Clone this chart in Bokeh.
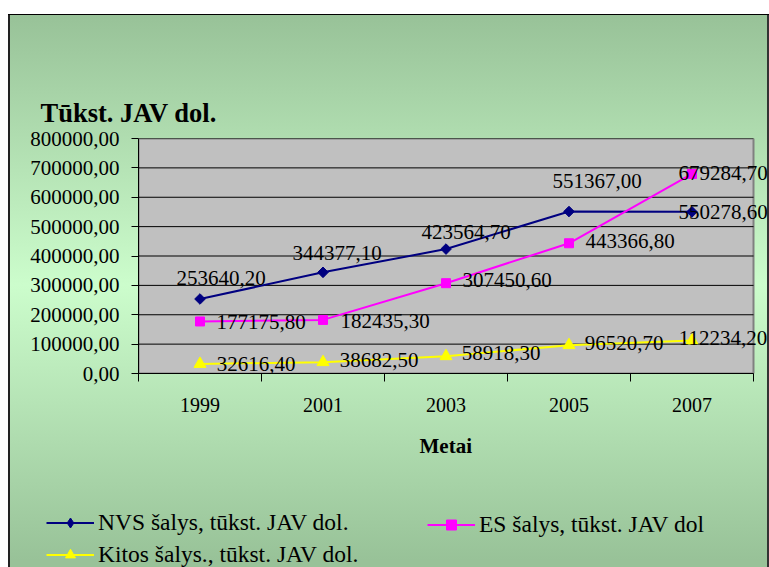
import math
from bokeh.plotting import figure
from bokeh.models import (ColumnDataSource, FixedTicker, Legend, LegendItem, Title, Range1d)
from bokeh.core.properties import value
from bokeh.embed import file_html
from bokeh.resources import INLINE

# ---------------- data ----------------
years = [1999, 2001, 2003, 2005, 2007]
nvs = [253640.20, 344377.10, 423564.70, 551367.00, 550278.60]
es = [177175.80, 182435.30, 307450.60, 443366.80, 679284.70]
kitos = [32616.40, 38682.50, 58918.30, 96520.70, 112234.20]
y_ticks = [0, 100000, 200000, 300000, 400000, 500000, 600000, 700000, 800000]
series_names = ["NVS šalys, tūkst. JAV dol.", "ES šalys, tūkst. JAV dol", "Kitos šalys., tūkst. JAV dol."]
y_title = "Tūkst. JAV dol."
x_title = "Metai"

# ---------------- label offsets (style, screen px) ----------------
nvs_dx = [21, 14, 20, 28, 31]
nvs_dy = [-21, -19, -17, -31, 0]
es_dx = [61, 62, 61, 61, 31]
es_dy = [1, 1, -3, -2, -1]
kitos_dx = [56, 56, 55, 55, 31]
kitos_dy = [0, -2, -3, -2, -3]

SERIF = "Liberation Serif"
W, H_MAIN, H_LEG = 769, 480, 87
GRAD = "linear-gradient(to bottom, #98c298 0px, #ccfdcc 270px, #98c298 545px)"
PLOT_W = 615          # px width of the grey plot area
EXTRA_R = 15          # px of chart area to the right of the grey plot area


def fmt(v):
    return f"{v:.2f}".replace(".", ",")


x0, x1 = years[0] - 1, years[-1] + 1
x_end = x1 + (x1 - x0) * EXTRA_R / PLOT_W

p = figure(width=W, height=H_MAIN, output_backend="svg", toolbar_location=None,
           x_range=Range1d(x0, x_end), y_range=Range1d(y_ticks[0], y_ticks[-1]),
           min_border_left=138, min_border_right=W - 138 - PLOT_W - EXTRA_R,
           min_border_top=138, min_border_bottom=H_MAIN - 373)

p.border_fill_color = None
p.background_fill_color = None
p.outline_line_color = None

p.styles = {
    "background-image": "linear-gradient(#000,#000), linear-gradient(#222,#222), linear-gradient(#333,#333), " + GRAD,
    "background-position": "8px 14px, 8px 14px, right 0 top 14px, 10px 15px",
    "background-size": "100% 1px, 2px 100%, 2px 100%, 100% 552px",
    "background-repeat": "no-repeat",
}

# grey plot area and horizontal grid lines
p.quad(left=x0, right=x1, bottom=y_ticks[0], top=y_ticks[-1],
       fill_color="#c0c0c0", line_color="#808080", line_width=2)
p.segment(x0=[x0] * len(y_ticks), x1=[x1] * len(y_ticks), y0=y_ticks, y1=y_ticks,
          line_color="black", line_width=1)

# x axis
minor = [y - 1 for y in years] + [years[-1] + 1]
p.xaxis.ticker = FixedTicker(ticks=years, minor_ticks=minor)
p.xaxis.bounds = (x0, x1)
p.xaxis.major_tick_line_color = None
p.xaxis.major_tick_out = 8
p.xaxis.major_tick_in = 0
p.xaxis.minor_tick_line_color = "black"
p.xaxis.minor_tick_out = 8
p.xaxis.minor_tick_in = 0
p.xaxis.axis_line_color = "black"
p.xaxis.major_label_standoff = 16
p.xaxis.major_label_text_font = SERIF
p.xaxis.major_label_text_font_size = "20px"
p.xaxis.major_label_text_color = "black"

# x axis title, centred under the grey plot area
xt = Title(text=x_title, align="left", offset=281, text_font=SERIF, text_font_size="21px",
           text_font_style="bold", text_color="black", standoff=34)
p.add_layout(xt, "below")

# y axis
p.yaxis.ticker = FixedTicker(ticks=y_ticks, minor_ticks=[])
p.yaxis.major_label_overrides = {t: fmt(t) for t in y_ticks}
p.yaxis.major_tick_out = 7
p.yaxis.major_tick_in = 0
p.yaxis.major_tick_line_color = "black"
p.yaxis.axis_line_color = "black"
p.yaxis.major_label_standoff = 12
p.yaxis.major_label_text_font = SERIF
p.yaxis.major_label_text_font_size = "21px"
p.yaxis.major_label_text_color = "black"

p.xgrid.visible = False
p.ygrid.visible = False

# y axis title (above the plot)
t = Title(text=y_title, align="left", offset=-98, text_font=SERIF, text_font_size="26.5px",
          text_font_style="bold", text_color="black", standoff=22)
p.add_layout(t, "above")

# series
colors = ["#000080", "#ff00ff", "#ffff00"]
series = [nvs, es, kitos]
markers = [("square", math.pi / 4, 7.5), ("square", 0, 9), ("triangle", 0, 12)]
legend_markers = [("diamond", 0, 14), ("square", 0, 10), ("triangle", 0, 13)]
offs = [(nvs_dx, nvs_dy), (es_dx, es_dy), (kitos_dx, kitos_dy)]

for vals, col, (mk, ang, sz) in zip(series, colors, markers):
    src = ColumnDataSource(dict(x=years, y=vals))
    p.line("x", "y", source=src, line_color=col, line_width=2)
    p.scatter("x", "y", source=src, marker=mk, angle=ang, size=sz, fill_color=col, line_color=col)

for vals, (dx, dy) in zip(series, offs):
    src = ColumnDataSource(dict(x=years, y=vals, lab=[fmt(v) for v in vals], dx=dx, dy=dy))
    p.text("x", "y", text="lab", source=src, x_offset="dx", y_offset="dy",
           text_align="center", text_baseline="middle",
           text_font=value(SERIF), text_font_size="21px", text_color="black")

# ---------------- legend strip (second root, same background) ----------------
lf = figure(width=W, height=H_LEG, output_backend="svg", toolbar_location=None,
            x_range=Range1d(0, 1), y_range=Range1d(0, 1),
            min_border_left=0, min_border_right=0, min_border_top=0, min_border_bottom=0)
lf.axis.visible = False
lf.grid.visible = False
lf.border_fill_color = None
lf.background_fill_color = None
lf.outline_line_color = None
lf.styles = {
    "background-image": "linear-gradient(#222,#222), linear-gradient(#333,#333), " + GRAD,
    "background-position": f"8px 0, right 0 top 0, 10px {15 - H_MAIN}px",
    "background-size": "2px 100%, 2px 100%, 100% 552px",
    "background-repeat": "no-repeat",
}

items = []
for vals, col, (mk, ang, sz), name in zip(series, colors, legend_markers, series_names):
    src = ColumnDataSource(dict(x=years, y=vals))   # outside this strip's ranges: only the legend swatches show
    lr = lf.line("x", "y", source=src, line_color=col, line_width=2)
    mr = lf.scatter("x", "y", source=src, marker=mk, angle=ang, size=sz, fill_color=col, line_color=col)
    items.append(LegendItem(label=name, renderers=[lr, mr]))


def make_legend(its, loc):
    lg = Legend(items=its, location=loc, orientation="vertical")
    lg.padding = 0
    lg.margin = 0
    lg.spacing = 5
    lg.border_line_color = None
    lg.background_fill_alpha = 0
    lg.glyph_width = 48
    lg.glyph_height = 25
    lg.label_height = 25
    lg.label_standoff = 4
    lg.label_text_font = SERIF
    lg.label_text_font_size = "23.5px"
    lg.label_text_color = "black"
    return lg


lf.add_layout(make_legend([items[0], items[2]], (46, -1)), "center")
lf.add_layout(make_legend([items[1]], (427, 29)), "center")

open("out.html", "w").write(file_html([p, lf], INLINE))
